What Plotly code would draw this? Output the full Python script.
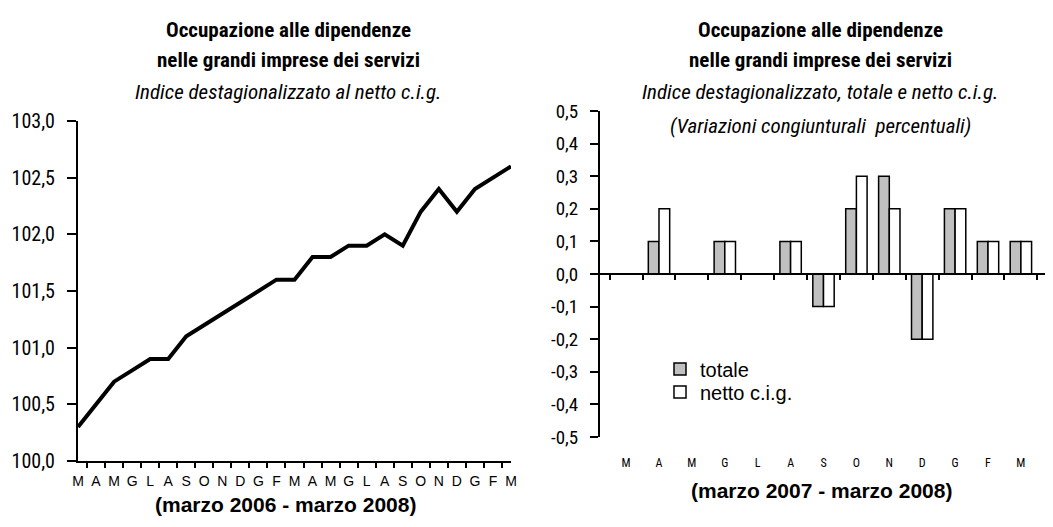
import plotly.graph_objects as go

# ---------------- data ----------------
left_months = ["M", "A", "M", "G", "L", "A", "S", "O", "N", "D", "G", "F",
               "M", "A", "M", "G", "L", "A", "S", "O", "N", "D", "G", "F", "M"]
left_index = [100.3, 100.5, 100.7, 100.8, 100.9, 100.9, 101.1, 101.2, 101.3,
              101.4, 101.5, 101.6, 101.6, 101.8, 101.8, 101.9, 101.9, 102.0,
              101.9, 102.2, 102.4, 102.2, 102.4, 102.5, 102.6]

right_months = ["M", "A", "M", "G", "L", "A", "S", "O", "N", "D", "G", "F", "M"]
totale = [0.0, 0.1, 0.0, 0.1, 0.0, 0.1, -0.1, 0.2, 0.3, -0.2, 0.2, 0.1, 0.1]
netto = [0.0, 0.2, 0.0, 0.1, 0.0, 0.1, -0.1, 0.3, 0.2, -0.2, 0.2, 0.1, 0.1]

right_ticks = [-0.5, -0.4, -0.3, -0.2, -0.1, 0.0, 0.1, 0.2, 0.3, 0.4, 0.5]

left_title = ["<b>Occupazione alle dipendenze</b>",
              "<b>nelle grandi imprese dei servizi</b>",
              "<i>Indice destagionalizzato al netto c.i.g.</i>"]
right_title = ["<b>Occupazione alle dipendenze</b>",
               "<b>nelle grandi imprese dei servizi</b>",
               "<i>Indice destagionalizzato, totale e netto c.i.g.</i>",
               "<i>(Variazioni congiunturali  percentuali)</i>"]
left_caption = "<b>(marzo 2006 - marzo 2008)</b>"
right_caption = "<b>(marzo 2007 - marzo 2008)</b>"

# ---------------- layout helpers ----------------
OFF = 8                      # page body margin
W, H = 1053 - OFF, 527 - OFF
NARROW = "Roboto Condensed, DejaVu Sans Condensed, Liberation Sans Narrow, Roboto, sans-serif"
ARIAL = "Liberation Sans, Arial, sans-serif"


def px_x(v):
    return (v - OFF) / W


def px_y(v):
    return 1 - (v - OFF) / H


left_cats = [f"{i:02d}{m}" for i, m in enumerate(left_months)]
right_cats = [f"{i:02d}{m}" for i, m in enumerate(right_months)]

fig = go.Figure()

fig.add_trace(go.Scatter(x=left_cats, y=left_index, mode="lines",
                         line=dict(color="black", width=4),
                         xaxis="x", yaxis="y", showlegend=False,
                         hoverinfo="skip"))

fig.add_trace(go.Bar(x=right_cats, y=totale, name="totale",
                     marker=dict(color="#c0c0c0", line=dict(color="black", width=1.5)),
                     xaxis="x2", yaxis="y2", legend="legend"))
fig.add_trace(go.Bar(x=right_cats, y=netto, name="netto c.i.g.",
                     marker=dict(color="white", line=dict(color="black", width=1.5)),
                     xaxis="x2", yaxis="y2", legend="legend2"))
# ghost trace carrying the bottom month labels of the right chart
fig.add_trace(go.Scatter(x=right_cats, y=[0] * len(right_cats), mode="markers",
                         marker=dict(opacity=0), xaxis="x3", yaxis="y2",
                         showlegend=False, hoverinfo="skip"))

y2_dom = [px_y(437), px_y(111)]
zero_pos = y2_dom[0] + (y2_dom[1] - y2_dom[0]) * 0.5

leg_common = dict(xanchor="left", yanchor="middle", bgcolor="rgba(0,0,0,0)",
                  font=dict(family=ARIAL, size=20), itemwidth=30)

fig.update_layout(
    template="none",
    width=W, height=H,
    margin=dict(l=0, r=0, t=0, b=0, pad=0, autoexpand=False),
    paper_bgcolor="white", plot_bgcolor="white",
    separators=",.",
    barmode="group", bargap=0.35, bargroupgap=0,
    font=dict(family=ARIAL, color="black"),
    xaxis=dict(domain=[px_x(78), px_x(511)], type="category",
               tickvals=left_cats, ticktext=left_months, tickson="boundaries",
               tickangle=0, automargin=False, ticklabelstandoff=6,
               ticks="outside", ticklen=5, tickwidth=1.5, tickcolor="black",
               showline=True, linecolor="black", linewidth=2,
               showgrid=False, zeroline=False, anchor="y",
               tickfont=dict(family=ARIAL, size=14)),
    yaxis=dict(domain=[px_y(461), px_y(121)], range=[100, 103], dtick=0.5,
               tickformat=".1f", ticks="outside", ticklen=9, tickwidth=1.5,
               automargin=False, ticklabelstandoff=8,
               tickcolor="black", showline=True, linecolor="black", linewidth=2,
               showgrid=False, zeroline=False, anchor="x",
               tickfont=dict(family=NARROW, size=20)),
    xaxis2=dict(domain=[px_x(600), px_x(1047)], type="category",
                tickvals=right_cats, showticklabels=False, tickson="boundaries",
                automargin=False,
                ticks="outside", ticklen=5, tickwidth=1.5, tickcolor="black",
                showline=True, linecolor="black", linewidth=2,
                showgrid=False, zeroline=False, anchor="free", position=zero_pos),
    xaxis3=dict(domain=[px_x(600), px_x(1047)], type="category",
                matches="x2", overlaying="x2", anchor="y2",
                tickvals=right_cats, ticktext=right_months, ticks="",
                tickangle=0, automargin=False, ticklabelstandoff=17,
                showline=False, showgrid=False, zeroline=False,
                tickfont=dict(family=NARROW, size=12)),
    yaxis2=dict(domain=y2_dom, range=[-0.5, 0.5],
                tickvals=right_ticks,
                ticktext=[f"{v:.1f}".replace(".", ",") for v in right_ticks],
                ticks="outside", ticklen=8, tickwidth=1.5, automargin=False,
                ticklabelstandoff=8,
                tickcolor="black", showline=True, linecolor="black", linewidth=2,
                showgrid=False, zeroline=False, anchor="x2",
                tickfont=dict(family=NARROW, size=19)),
    legend=dict(x=px_x(660), y=px_y(369), **leg_common),
    legend2=dict(x=px_x(660), y=px_y(392), **leg_common),
)

ann = []
for t, y in zip(left_title, [30, 60, 92]):
    ann.append(dict(text=t, x=px_x(288), y=px_y(y), xref="paper", yref="paper",
                    showarrow=False, xanchor="center", yanchor="middle",
                    font=dict(family=NARROW, size=21)))
for t, y in zip(right_title, [30, 60, 92, 126]):
    ann.append(dict(text=t, x=px_x(820), y=px_y(y), xref="paper", yref="paper",
                    showarrow=False, xanchor="center", yanchor="middle",
                    font=dict(family=NARROW, size=21)))
ann.append(dict(text=left_caption, x=px_x(285), y=px_y(504), xref="paper",
                yref="paper", showarrow=False, xanchor="center", yanchor="middle",
                font=dict(family=ARIAL, size=21)))
ann.append(dict(text=right_caption, x=px_x(821), y=px_y(490), xref="paper",
                yref="paper", showarrow=False, xanchor="center", yanchor="middle",
                font=dict(family=ARIAL, size=21)))
fig.update_layout(annotations=ann)

fig.write_html("out.html")
